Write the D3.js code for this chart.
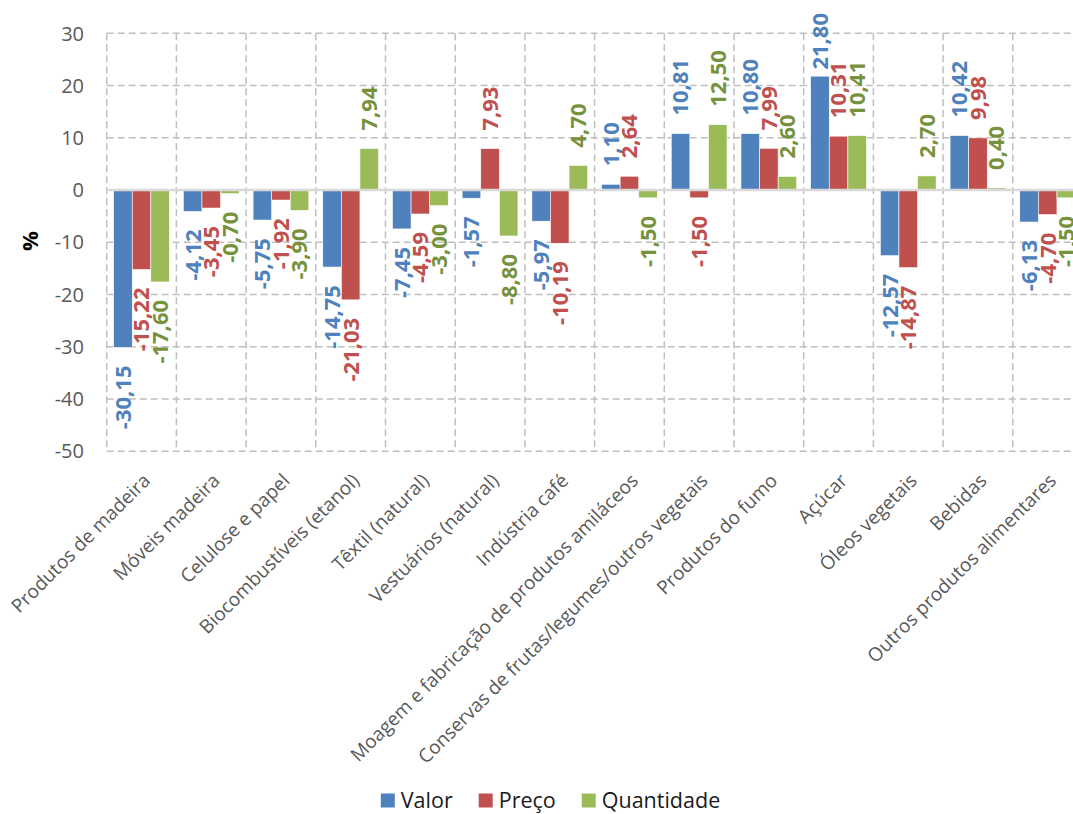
<!DOCTYPE html>
<html>
<head>
<meta charset="utf-8">
<script src="https://cdn.jsdelivr.net/npm/d3@7"></script>
<style>
  html, body { margin: 0; padding: 0; background: #fff; }
  svg { display: block; }
</style>
</head>
<body>
<svg id="chart" width="1073" height="814"></svg>
<script>
const categories = [
  "Produtos de madeira", "Móveis madeira", "Celulose e papel", "Biocombustíveis (etanol)",
  "Têxtil (natural)", "Vestuários (natural)", "Indústria café",
  "Moagem e fabricação de produtos amiláceos", "Conservas de frutas/legumes/outros vegetais",
  "Produtos do fumo", "Açúcar", "Óleos vegetais", "Bebidas", "Outros produtos alimentares"
];
const seriesNames = ["Valor", "Preço", "Quantidade"];
const valor      = [-30.15, -4.12, -5.75, -14.75, -7.45, -1.57, -5.97, 1.10, 10.81, 10.80, 21.80, -12.57, 10.42, -6.13];
const preco      = [-15.22, -3.45, -1.92, -21.03, -4.59, 7.93, -10.19, 2.64, -1.50, 7.99, 10.31, -14.87, 9.98, -4.70];
const quantidade = [-17.60, -0.70, -3.90, 7.94, -3.00, -8.80, 4.70, -1.50, 12.50, 2.60, 10.41, 2.70, 0.40, -1.50];
const yTicks = [30, 20, 10, 0, -10, -20, -30, -40, -50];

(function () {
const seriesValues = [valor, preco, quantidade];
const barColors = ["#4F81BD", "#C0504D", "#9BBB59"];
const labelColors = ["#4F81BD", "#C0504D", "#76923C"];

const svg = d3.select("#chart");
const pLeft = 106.7, pRight = 1082.5, pTop = 33.3, pBottom = 451.2;

const x0 = d3.scaleBand().domain(categories).range([pLeft, pRight]).paddingInner(0).paddingOuter(0);
const x1 = d3.scaleBand().domain(seriesNames).range([0, x0.bandwidth()]).paddingInner(0).paddingOuter(0.375);
const y = d3.scaleLinear().domain([-50, 30]).range([pBottom, pTop]);

const fmt = v => v.toFixed(2).replace(".", ",");

// horizontal gridlines
svg.append("g").selectAll("line").data(yTicks.filter(t => t !== 0)).join("line")
  .attr("x1", pLeft).attr("x2", pRight)
  .attr("y1", d => y(d)).attr("y2", d => y(d))
  .attr("stroke", "#bfbfbf").attr("stroke-width", 1.5).attr("stroke-dasharray", "7,4");

// vertical gridlines at category boundaries
const bounds = categories.map(c => x0(c)).concat([pRight]);
svg.append("g").selectAll("line").data(bounds).join("line")
  .attr("x1", d => d).attr("x2", d => d)
  .attr("y1", pTop).attr("y2", pBottom)
  .attr("stroke", "#bfbfbf").attr("stroke-width", 1.5).attr("stroke-dasharray", "7,4");

// y tick labels
svg.append("g").selectAll("text").data(yTicks).join("text")
  .attr("x", 84).attr("y", d => y(d)).attr("dy", "0.36em")
  .attr("text-anchor", "end")
  .attr("font-family", "'Open Sans', sans-serif").attr("font-size", 20)
  .attr("fill", "#595959")
  .text(d => d);

// y axis title
svg.append("text")
  .attr("transform", "translate(30,241) rotate(-90)")
  .attr("text-anchor", "middle").attr("dy", "0.36em")
  .attr("font-family", "'Open Sans', sans-serif").attr("font-size", 22).attr("font-weight", "bold")
  .attr("fill", "#000")
  .text("%");

// bars
const barData = [];
categories.forEach((c, i) => {
  seriesNames.forEach((s, j) => {
    barData.push({ cat: c, series: s, j: j, v: seriesValues[j][i] });
  });
});

svg.append("g").selectAll("rect").data(barData).join("rect")
  .attr("x", d => x0(d.cat) + x1(d.series))
  .attr("width", x1.bandwidth())
  .attr("y", d => y(Math.max(0, d.v)))
  .attr("height", d => Math.abs(y(d.v) - y(0)))
  .attr("fill", d => barColors[d.j])
  .attr("stroke", "#fff").attr("stroke-width", 0.6);

// zero line
svg.append("line")
  .attr("x1", pLeft).attr("x2", pRight).attr("y1", y(0)).attr("y2", y(0))
  .attr("stroke", "#d9d9d9").attr("stroke-width", 2.5);

// data labels
const gap = 18;
const labels = svg.append("g").selectAll("text").data(barData).join("text")
  .attr("font-family", "'Open Sans', sans-serif").attr("font-size", 22).attr("font-weight", "bold")
  .attr("fill", d => labelColors[d.j])
  .attr("dy", "0.36em")
  .text(d => fmt(d.v));

labels.each(function(d) {
  const el = d3.select(this);
  const cx = x0(d.cat) + x1(d.series) + x1.bandwidth() / 2;
  const len = this.getComputedTextLength();
  if (d.v >= 0) {
    let yb = y(d.v) - gap;
    if (yb - len < 13) yb = 13 + len;
    el.attr("text-anchor", "start")
      .attr("transform", `translate(${cx},${yb}) rotate(-90)`);
  } else {
    const yt = y(d.v) + gap;
    el.attr("text-anchor", "end")
      .attr("transform", `translate(${cx},${yt}) rotate(-90)`);
  }
});

// category labels
svg.append("g").selectAll("text").data(categories).join("text")
  .attr("transform", d => `translate(${x0(d) + x0.bandwidth() / 2 + 5},${477}) rotate(-45)`)
  .attr("text-anchor", "end").attr("dy", "0.36em")
  .attr("font-family", "'Open Sans', sans-serif").attr("font-size", 19)
  .attr("fill", "#595959")
  .text(d => d);

// legend
const legend = svg.append("g");
let lx = 0;
const items = [];
seriesNames.forEach((s, j) => {
  const g = legend.append("g");
  g.append("rect").attr("x", 0).attr("y", -7).attr("width", 14).attr("height", 14).attr("fill", barColors[j]);
  const t = g.append("text").attr("x", 20).attr("y", 0).attr("dy", "0.36em")
    .attr("font-family", "'Open Sans', sans-serif").attr("font-size", 21.5)
    .attr("fill", "#1a1a1a").text(s);
  const w = 20 + t.node().getComputedTextLength();
  items.push({ g, x: lx });
  lx += w + 26;
});
const totalW = lx - 26;
const startX = 550.5 - totalW / 2;
items.forEach(it => it.g.attr("transform", `translate(${startX + it.x},800.5)`));
})();
</script>
</body>
</html>
